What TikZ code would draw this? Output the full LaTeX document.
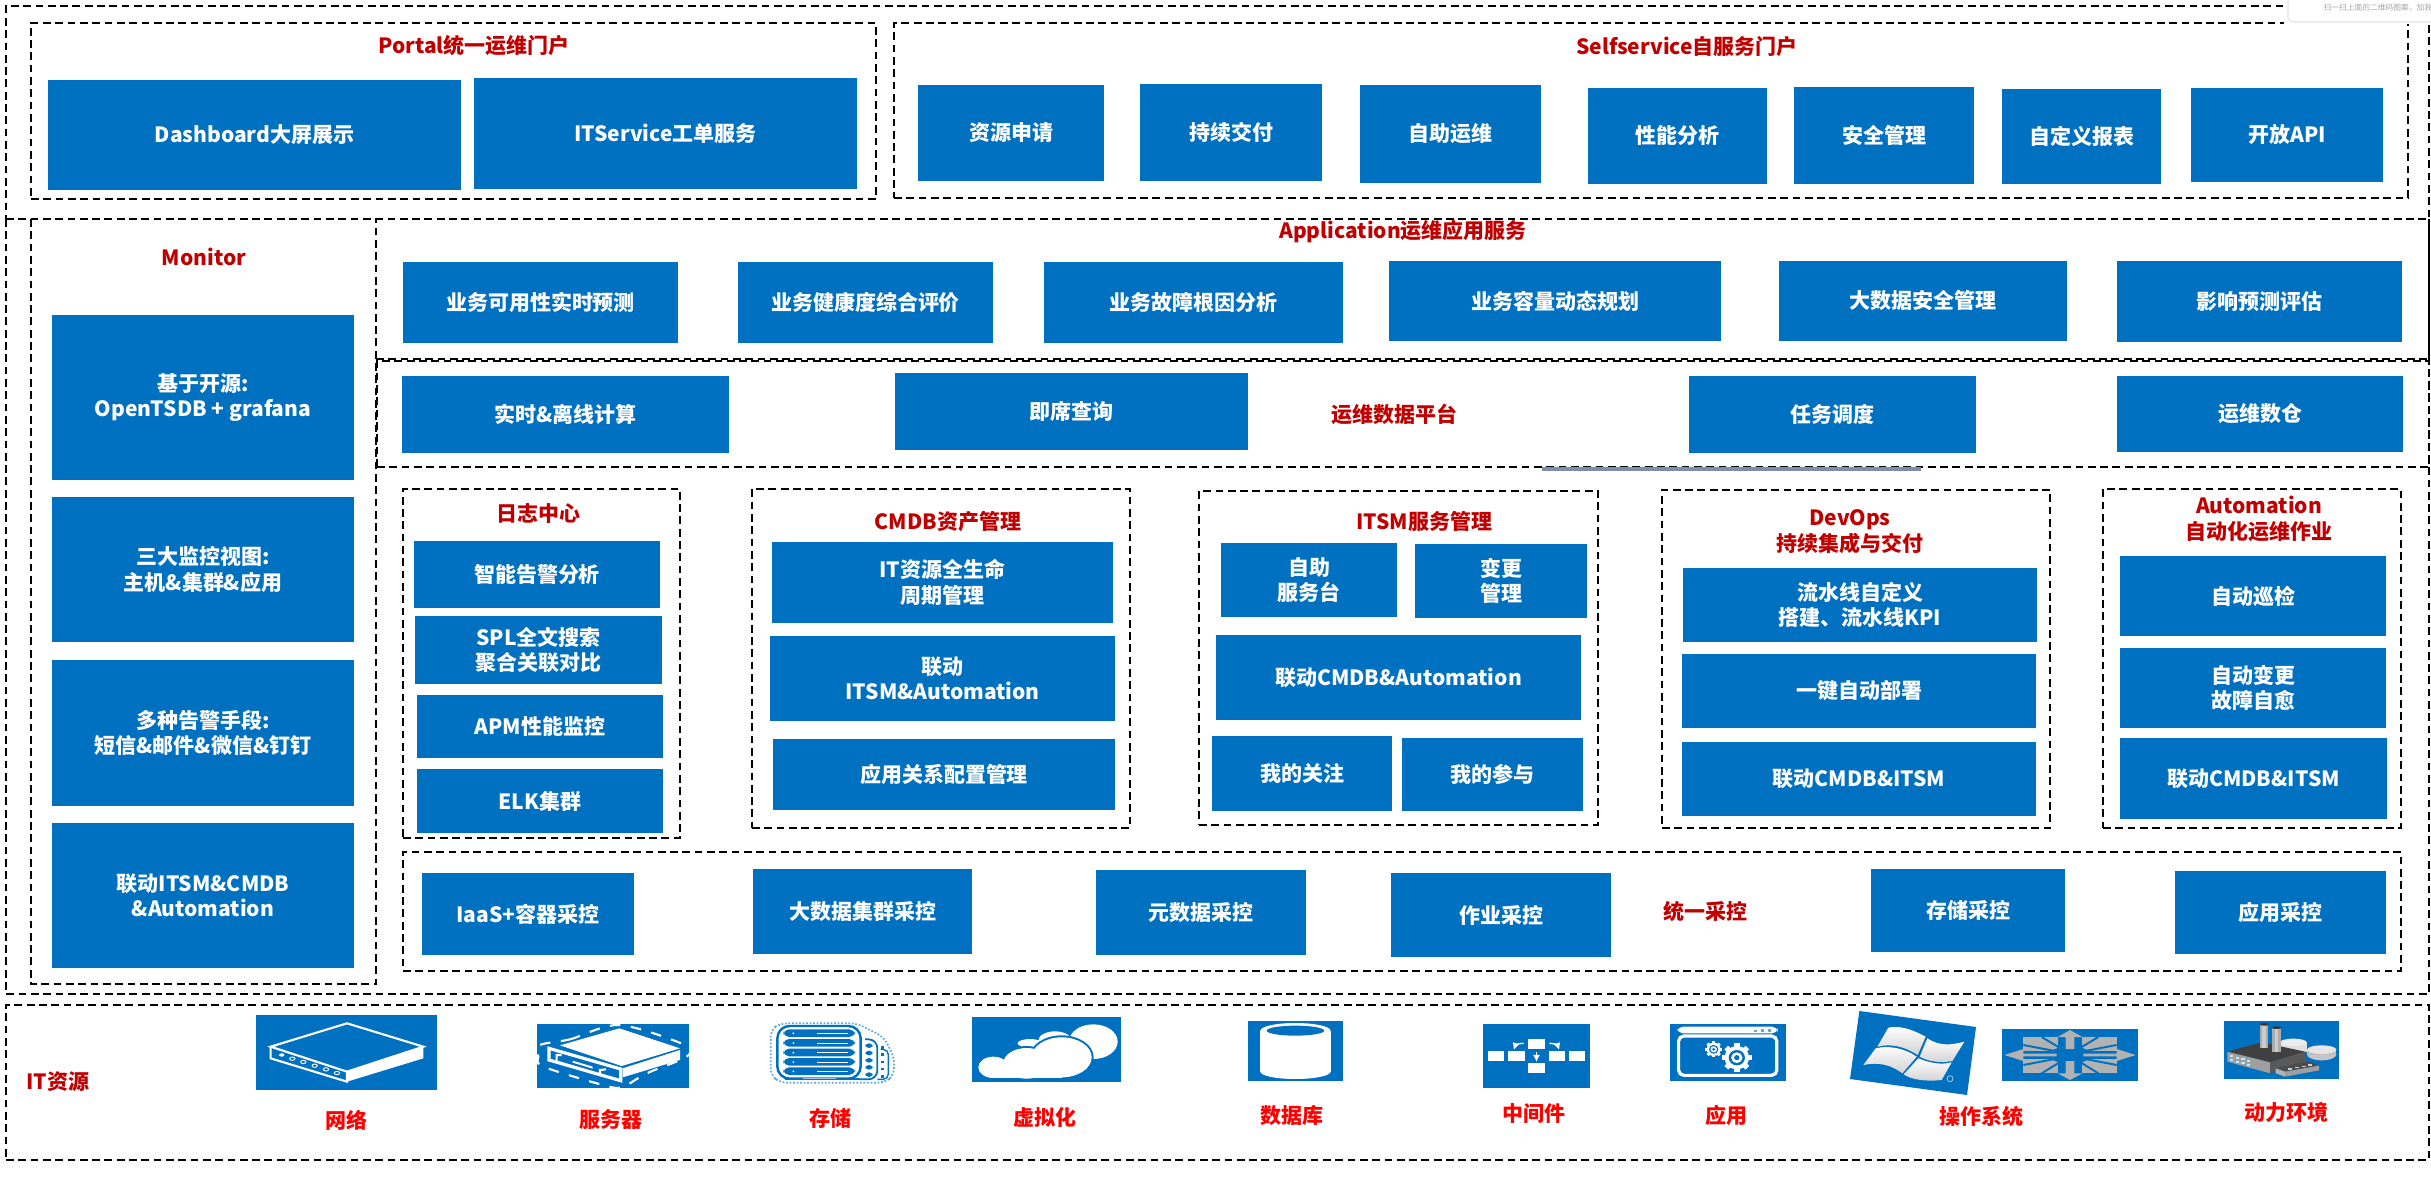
\documentclass[tikz,border=0pt]{standalone}
\usepackage{fontspec}
\setmainfont{Noto Sans CJK SC}
\usetikzlibrary{arrows.meta}
\definecolor{iconblue}{HTML}{0070C0}
\definecolor{titlered}{HTML}{C00000}
\definecolor{labelred}{HTML}{FF0000}
\definecolor{steelbar}{HTML}{7F8FA9}
\definecolor{arrowgrey}{HTML}{B2B2B2}
\tikzset{
  blockbox/.style={fill=iconblue,text=white,font=\fontsize{5.97}{7.3}\selectfont\bfseries,align=center,inner sep=0pt,outer sep=0pt},
  framebox/.style={draw=black,line width=.55pt,dash pattern=on 2.2pt off 1.3pt,inner sep=0pt,outer sep=0pt},
  openbox/.style={inner sep=0pt,outer sep=0pt},
  titletext/.style={text=titlered,font=\fontsize{5.97}{7.3}\selectfont\bfseries,align=center,inner sep=0pt},
  labeltext/.style={text=labelred,font=\fontsize{5.97}{7.3}\selectfont\bfseries,align=center,inner sep=0pt},
  iconline/.style={draw=white,line width=.6pt}
}
\newcommand{\blockat}[6]{\node[blockbox,minimum width={(#4-#2)*0.01cm},minimum height={(#5-#3)*0.01cm}] (#1) at ({(#2+#4)/2},{(#3+#5)/2}) {#6};}
\newcommand{\frameat}[5]{\node[framebox,minimum width={(#4-#2)*0.01cm},minimum height={(#5-#3)*0.01cm}] (#1) at ({(#2+#4)/2},{(#3+#5)/2}) {};}
\newcommand{\openat}[5]{\node[openbox,minimum width={(#4-#2)*0.01cm},minimum height={(#5-#3)*0.01cm}] (#1) at ({(#2+#4)/2},{(#3+#5)/2}) {};}
\newcommand{\gearat}[3]{%
  \foreach \a in {0,45,...,315} {\fill[white,rotate around={\a:(#1,#2)}] ({#1-#3*.22},#2) rectangle ({#1+#3*.22},{#2-#3*1.22});}
  \fill[white] (#1,#2) circle[radius=#3];
  \fill[iconblue] (#1,#2) circle[radius={.66*#3}];
  \fill[white] (#1,#2) circle[radius={.46*#3}];
  \fill[iconblue] (#1,#2) circle[radius={.22*#3}];
}
\begin{document}
\begin{tikzpicture}[x=0.01cm,y=-0.01cm]
  \useasboundingbox (0,0) rectangle (2431,1183);
  \frameat{topframe}{6}{6}{2429}{219}
  \openat{mainframe}{6}{219}{2429}{994}
  \openat{monitorframe}{31}{219}{376}{984}
  \openat{appframe}{376}{219}{2429}{359}
  \draw[framebox] (mainframe.north west) -- (mainframe.south west) -- (mainframe.south east) -- (mainframe.north east);
  \draw[framebox] (monitorframe.north west) -- (monitorframe.south west) -- (monitorframe.south east) -- (monitorframe.north east);
  \draw[framebox] (appframe.south west) -- (appframe.south east) -- (appframe.north east);
  \frameat{resourceframe}{6}{1005}{2429}{1160}
  \frameat{portalframe}{31}{23}{876}{199}
  \frameat{selfframe}{894}{23}{2408}{198}
  \frameat{dataframe}{377}{361}{2429}{467}
  \frameat{logframe}{403}{489}{680}{838}
  \frameat{cmdbframe}{752}{489}{1130}{828}
  \frameat{itsmframe}{1199}{491}{1598}{825}
  \frameat{devopsframe}{1662}{490}{2050}{828}
  \frameat{autoframe}{2103}{489}{2401}{828}
  \frameat{collectframe}{403}{852}{2401}{971}
  \fill[steelbar] (1542,467) rectangle (1921,471);

  \draw[white,fill=white] (2285,-6) rectangle (2437,23);
  \draw[gray!15,line width=.5pt,rounded corners=1.5pt] (2288,-6) -- (2288,22) -- (2437,22);
  \node[text=gray!70,font=\fontsize{2.2}{3}\selectfont,inner sep=0pt,anchor=west] (scanhint) at (2323,8) {扫一扫上面的二维码图案，加我};

  \node[titletext] (portaltitle) at (474,46) {Portal统一运维门户};
  \node[titletext] (selftitle) at (1687,47) {Selfservice自服务门户};
  \node[titletext] (monitortitle) at (204,257) {Monitor};
  \node[titletext] (apptitle) at (1403,232) {Application运维应用服务};
  \node[titletext] (datatitle) at (1394,414) {运维数据平台};
  \node[titletext] (logtitle) at (538,514) {日志中心};
  \node[titletext] (cmdbtitle) at (948,522) {CMDB资产管理};
  \node[titletext] (itsmtitle) at (1424,521) {ITSM服务管理};
  \node[titletext] (devopstitle) at (1850,532) {DevOps\\持续集成与交付};
  \node[titletext] (autotitle) at (2259,519) {Automation\\自动化运维作业};
  \node[titletext] (collecttitle) at (1705,911) {统一采控};
  \node[titletext] (resourcetitle) at (58,1082) {IT资源};

  \blockat{dashboard}{48}{80}{461}{190}{Dashboard大屏展示}
  \blockat{itservice}{474}{78}{857}{189}{ITService工单服务}
  \blockat{apply}{918}{85}{1104}{181}{资源申请}
  \blockat{delivery}{1140}{84}{1322}{181}{持续交付}
  \blockat{selfops}{1360}{85}{1541}{183}{自助运维}
  \blockat{perf}{1588}{88}{1767}{184}{性能分析}
  \blockat{security}{1794}{87}{1974}{184}{安全管理}
  \blockat{report}{2002}{89}{2161}{184}{自定义报表}
  \blockat{openapi}{2191}{88}{2383}{182}{开放API}

  \blockat{opensource}{52}{315}{354}{480}{基于开源:~\\OpenTSDB + grafana}
  \blockat{views}{52}{497}{354}{642}{三大监控视图:~\\主机\&集群\&应用}
  \blockat{alerts}{52}{660}{354}{806}{多种告警手段:~\\短信\&邮件\&微信\&钉钉}
  \blockat{linkmonitor}{52}{823}{354}{968}{联动ITSM\&CMDB\\\&Automation}

  \blockat{forecast}{403}{262}{678}{343}{业务可用性实时预测}
  \blockat{health}{738}{262}{993}{343}{业务健康度综合评价}
  \blockat{rootcause}{1044}{262}{1343}{343}{业务故障根因分析}
  \blockat{capacity}{1389}{261}{1721}{341}{业务容量动态规划}
  \blockat{bigsafe}{1779}{261}{2067}{341}{大数据安全管理}
  \blockat{impact}{2117}{261}{2402}{342}{影响预测评估}

  \blockat{compute}{402}{376}{729}{453}{实时\&离线计算}
  \blockat{adhoc}{895}{373}{1248}{450}{即席查询}
  \blockat{schedule}{1689}{376}{1976}{453}{任务调度}
  \blockat{warehouse}{2117}{376}{2403}{452}{运维数仓}

  \blockat{smartalert}{414}{541}{660}{608}{智能告警分析}
  \blockat{spl}{415}{616}{662}{684}{SPL全文搜索\\聚合关联对比}
  \blockat{apm}{417}{695}{663}{758}{APM性能监控}
  \blockat{elk}{417}{769}{663}{833}{ELK集群}

  \blockat{lifecycle}{772}{542}{1113}{623}{IT资源全生命\\周期管理}
  \blockat{linkcmdb}{770}{636}{1115}{721}{联动\\ITSM\&Automation}
  \blockat{relation}{773}{739}{1115}{810}{应用关系配置管理}

  \blockat{helpdesk}{1221}{543}{1397}{617}{自助\\服务台}
  \blockat{change}{1415}{544}{1587}{618}{变更\\管理}
  \blockat{linkitsm}{1216}{635}{1581}{720}{联动CMDB\&Automation}
  \blockat{follow}{1212}{736}{1392}{811}{我的关注}
  \blockat{join}{1402}{738}{1583}{811}{我的参与}

  \blockat{pipeline}{1683}{568}{2037}{642}{流水线自定义\\搭建、流水线KPI}
  \blockat{deploy}{1682}{654}{2036}{728}{一键自动部署}
  \blockat{linkdevops}{1682}{742}{2036}{816}{联动CMDB\&ITSM}

  \blockat{patrol}{2120}{556}{2386}{636}{自动巡检}
  \blockat{heal}{2120}{648}{2386}{728}{自动变更\\故障自愈}
  \blockat{linkauto}{2120}{738}{2387}{819}{联动CMDB\&ITSM}

  \blockat{iaas}{422}{873}{634}{955}{IaaS+容器采控}
  \blockat{bigdata}{753}{869}{972}{954}{大数据集群采控}
  \blockat{metadata}{1096}{870}{1306}{955}{元数据采控}
  \blockat{jobs}{1391}{873}{1611}{957}{作业采控}
  \blockat{storage}{1871}{869}{2065}{952}{存储采控}
  \blockat{appcollect}{2175}{871}{2386}{954}{应用采控}

  \node[labeltext] (netlabel) at (346,1120) {网络};
  \node[labeltext] (serverlabel) at (611,1120) {服务器};
  \node[labeltext] (storelabel) at (830,1118) {存储};
  \node[labeltext] (virtlabel) at (1045,1117) {虚拟化};
  \node[labeltext] (dblabel) at (1292,1116) {数据库};
  \node[labeltext] (midlabel) at (1534,1114) {中间件};
  \node[labeltext] (applabel) at (1726,1115) {应用};
  \node[labeltext] (oslabel) at (1981,1116) {操作系统};
  \node[labeltext] (powerlabel) at (2286,1112) {动力环境};

  \begin{scope}[shift={(250,1010)},scale=1/3]
    \fill[iconblue] (18,15) rectangle (561,240);
    \draw[iconline] (291,40) -- (520,110) -- (291,185) -- (62,110) -- cycle;
    \fill[white] (291,187) -- (520,112) -- (520,145) -- (291,215) -- cycle;
    \draw[iconline] (62,110) -- (62,145) -- (291,215) -- (291,185);
    \fill[white] (95,135) circle[x radius=8,y radius=5];
    \foreach \cx/\cy in {127/146,160/156,194/167,228/178,261/189} {\draw[white,line width=.25pt] (\cx,\cy) circle[x radius=8,y radius=5];}
    \fill[iconblue] (861,42) rectangle (1317,234);
    \fill[white] (930,106) -- (1108,55) -- (1290,115) -- (1115,168) -- cycle;
    \fill[white] (1118,175) -- (1290,120) -- (1290,150) -- (1118,202) -- cycle;
    \draw[iconline,line width=.9pt] (897,115) -- (1112,177) -- (1112,212) -- (897,150) -- cycle;
    \draw[iconline] (935,135) -- (920,135) -- (920,155) -- (1050,195) -- (1050,180) -- (1068,178);
    \fill[white] (968,152) -- (1028,170) -- (1028,176) -- (968,158) -- cycle;
    \draw[white,dashed,line width=.6pt] plot[smooth cycle] coordinates {(870,105) (960,88) (1108,45) (1305,105) (1310,140) (1190,190) (1120,230) (1070,228) (880,170) (865,140)};
  \end{scope}

  \begin{scope}[shift={(760,1010)},scale=1/3]
    \draw[iconblue!60,dash pattern=on .5pt off .5pt,line width=.5pt,rounded corners=2pt] (32,60) -- (60,40) -- (290,40) -- (370,80) -- (402,140) -- (402,195) -- (375,218) -- (60,218) -- (32,195) -- cycle;
    \draw[iconblue,line width=.5pt,rounded corners=2.5pt] (315,88) -- (352,88) -- (352,208) -- (300,208);
    \draw[iconblue,line width=.4pt,rounded corners=1.5pt] (362,118) -- (385,118) -- (385,208) -- (352,208);
    \foreach \ty in {100,122,144,165,187} {
      \fill[iconblue,rounded corners=1pt] (316,\ty) rectangle (338,{\ty+14});
      \fill[iconblue] (364,{\ty+8}) rectangle (373,{\ty+16});
    }
    \draw[iconblue,line width=.7pt,rounded corners=3.5pt] (52,48) rectangle (302,206);
    \foreach \ty in {58,87,116,144,172} {
      \fill[iconblue,rounded corners=1.6pt] (70,\ty) rectangle (285,{\ty+23});
      \fill[white] (170,{\ty+11}) rectangle (265,{\ty+14});
      \fill[white] (100,{\ty+12}) circle[radius=3];
    }
    \fill[iconblue] (75,204) rectangle (128,210);
    \fill[iconblue] (228,204) rectangle (300,210);
    \fill[iconblue!40] (128,204) rectangle (228,208);
    \fill[iconblue] (636,21) rectangle (1083,216);
    \fill[white] (1000,95) circle[x radius=73,y radius=52];
    \fill[white] (885,92) circle[x radius=50,y radius=28];
    \fill[white] (810,100) circle[x radius=37,y radius=13];
    \foreach \cx/\cy/\rx/\ry in {905/142/90/60,800/160/70/46,700/172/45/32} {
      \fill[iconblue] (\cx,\cy) circle[x radius={\rx+6},y radius={\ry+6}];
    }
    \foreach \cx/\cy/\rx/\ry in {905/142/90/60,800/160/70/46,700/172/45/32} {
      \fill[white] (\cx,\cy) circle[x radius=\rx,y radius=\ry];
    }
    \fill[white] (700,170) rectangle (905,203);
  \end{scope}

  \begin{scope}[shift={(1240,1010)},xscale=1/2.85,yscale=1/3]
    \fill[iconblue] (23,33) rectangle (294,213);
    \fill[white] (58,62) rectangle (258,185);
    \fill[white] (158,62) circle[x radius=100,y radius=23];
    \fill[white] (158,185) circle[x radius=100,y radius=22];
    \fill[iconblue] (158,62) circle[x radius=82,y radius=15];
    \fill[iconblue] (693,42) rectangle (998,234);
    \foreach \bx/\by in {707/124,765/124,822/88,822/160,880/124,938/124} {\fill[white] (\bx,\by) rectangle ({\bx+46},{\by+28});}
    \draw[white,line width=.4pt,-{Latex[length=2pt,width=2pt]}] (808,100) .. controls (795,100) and (785,105) .. (780,120);
    \draw[white,line width=.4pt,-{Latex[length=2pt,width=2pt]}] (882,100) .. controls (895,100) and (905,105) .. (910,120);
    \draw[white,line width=.4pt,-{Latex[length=2pt,width=2pt]}] (845,127) -- (845,156);
    \fill[iconblue] (1226,42) rectangle (1556,213);
    \fill[white,rounded corners=1.5pt] (1247,50) rectangle (1532,70);
    \fill[iconblue!60] (1464,60) rectangle (1474,65);
    \fill[iconblue!60] (1484,56) rectangle (1494,65);
    \fill[iconblue!60] (1504,56) rectangle (1514,65);
    \draw[white,line width=.9pt,rounded corners=1.5pt] (1250,78) rectangle (1530,196);
    \gearat{1350}{118}{20}
    \gearat{1416}{143}{35}
  \end{scope}

  \begin{scope}[shift={(1845,1005)},scale=1/3]
    \fill[iconblue] (43,18) -- (393,66) -- (366,270) -- (15,222) -- cycle;
    \shade[top color=white,bottom color=gray!35] (130,68) .. controls (165,60) and (205,75) .. (242,95) -- (218,150) .. controls (180,125) and (140,115) .. (97,125) -- cycle;
    \shade[top color=white,bottom color=gray!35] (247,100) .. controls (285,125) and (320,120) .. (358,110) -- (322,168) .. controls (290,175) and (250,170) .. (224,155) -- cycle;
    \shade[top color=white,bottom color=gray!35] (92,130) .. controls (130,120) and (180,130) .. (215,155) -- (172,205) .. controls (140,180) and (100,170) .. (55,180) -- cycle;
    \shade[top color=white,bottom color=gray!35] (220,160) .. controls (255,175) and (290,180) .. (320,172) -- (290,225) .. controls (245,230) and (200,225) .. (176,208) -- cycle;
    \draw[white!70!iconblue,line width=.2pt] (315,221) circle[radius=9];

    \fill[iconblue] (471,72) rectangle (879,228);
    \fill[arrowgrey] (535,96) rectangle (815,205);
    \foreach \ax/\ay/\bx/\by in {535/120/640/140,535/180/640/160,815/120/710/140,815/180/710/160,590/96/650/132,590/205/650/168,760/96/700/132,760/205/700/168} {\draw[iconblue,line width=.55pt] (\ax,\ay) -- (\bx,\by);}
    \fill[iconblue] (640,96) rectangle (712,205);
    \fill[iconblue] (535,138) rectangle (815,162);
    \fill[iconblue] (675,150) circle[x radius=62,y radius=26];
    \fill[arrowgrey] (675,75) -- (712,96) -- (688,96) -- (688,132) -- (662,132) -- (662,96) -- (638,96) -- cycle;
    \fill[arrowgrey] (675,225) -- (712,205) -- (688,205) -- (688,168) -- (662,168) -- (662,205) -- (638,205) -- cycle;
    \fill[arrowgrey] (478,150) -- (535,132) -- (535,146) -- (635,146) -- (635,154) -- (535,154) -- (535,168) -- cycle;
    \fill[arrowgrey] (872,150) -- (815,132) -- (815,146) -- (715,146) -- (715,154) -- (815,154) -- (815,168) -- cycle;

    \fill[iconblue] (1137,48) rectangle (1482,222);
    \fill[gray!45] (1345,120) circle[x radius=40,y radius=18];
    \fill[gray!25] (1305,112) rectangle (1385,140);
    \fill[gray!15] (1345,112) circle[x radius=40,y radius=11];
    \fill[gray!45] (1430,148) circle[x radius=44,y radius=18];
    \fill[gray!50] (1386,135) rectangle (1474,150);
    \fill[gray!20] (1430,134) circle[x radius=44,y radius=13];
    \fill[black!75] (1147,140) -- (1250,112) -- (1380,140) -- (1275,172) -- cycle;
    \fill[gray!75] (1147,140) -- (1275,172) -- (1275,205) -- (1147,170) -- cycle;
    \fill[black!65] (1275,172) -- (1380,140) -- (1380,170) -- (1275,205) -- cycle;
    \foreach \wx/\wy in {1155/150,1172/155,1189/160,1206/165,1155/162,1172/167,1189/172,1206/177} {\fill[cyan!25] (\wx,\wy) rectangle ({\wx+10},{\wy+6});}
    \fill[gray!65] (1245,58) rectangle (1270,130);
    \fill[gray!40] (1252,58) rectangle (1262,130);
    \fill[black!80] (1258,58) circle[x radius=14,y radius=4];
    \fill[gray!65] (1281,68) rectangle (1309,140);
    \fill[gray!40] (1289,68) rectangle (1300,140);
    \fill[black!80] (1295,68) circle[x radius=15,y radius=4];
    \fill[black!70] (1292,190) -- (1390,168) -- (1422,182) -- (1320,200) -- cycle;
    \fill[gray!60] (1292,190) -- (1320,200) -- (1320,215) -- (1292,205) -- cycle;
    \fill[gray!75] (1320,200) -- (1422,182) -- (1422,196) -- (1320,215) -- cycle;
    \foreach \kx/\ky in {1330/190,1350/186,1370/182,1390/178} {\fill[gray!40] (\kx,\ky) rectangle ({\kx+12},{\ky+4});}
  \end{scope}
\end{tikzpicture}
\end{document}
